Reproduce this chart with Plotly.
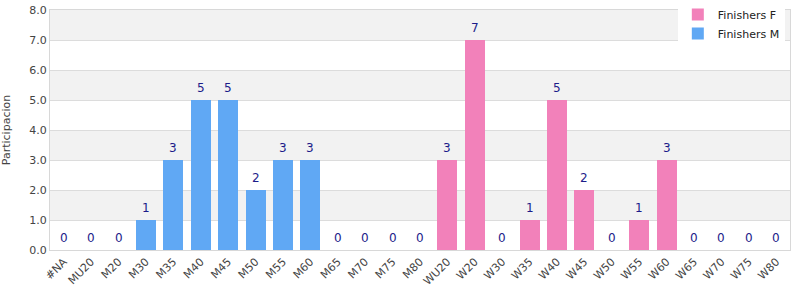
import plotly.graph_objects as go

categories = ["#NA", "MU20", "M20", "M30", "M35", "M40", "M45", "M50", "M55", "M60",
              "M65", "M70", "M75", "M80", "WU20", "W20", "W30", "W35", "W40", "W45",
              "W50", "W55", "W60", "W65", "W70", "W75", "W80"]
finishers_m = [0, 0, 0, 1, 3, 5, 5, 2, 3, 3, 0, 0, 0, 0,
               0, 0, 0, 0, 0, 0, 0, 0, 0, 0, 0, 0, 0]
finishers_f = [0, 0, 0, 0, 0, 0, 0, 0, 0, 0, 0, 0, 0, 0,
               3, 7, 0, 1, 5, 2, 0, 1, 3, 0, 0, 0, 0]
totals = [m + f for m, f in zip(finishers_m, finishers_f)]
y_ticks = [0, 1, 2, 3, 4, 5, 6, 7, 8]

FONT = "DejaVu Sans"
fig = go.Figure()
fig.add_trace(go.Bar(x=categories, y=finishers_m, name="Finishers M",
                     marker=dict(color="#60a8f4", line=dict(width=0))))
fig.add_trace(go.Bar(x=categories, y=finishers_f, name="Finishers F",
                     marker=dict(color="#f281ba", line=dict(width=0))))

for c, t in zip(categories, totals):
    fig.add_annotation(x=c, y=t, text=str(t), showarrow=False, yanchor="bottom",
                       yshift=3, font=dict(family=FONT, size=12, color="#1c1c8a"))

shapes = []
for lo in y_ticks[1::2]:
    shapes.append(dict(type="rect", xref="paper", yref="y", x0=0, x1=1, y0=lo, y1=lo + 1,
                       fillcolor="#f2f2f2", line=dict(width=0), layer="below"))

fig.update_layout(
    width=800, height=300,
    margin=dict(l=50, r=10, t=10, b=50, autoexpand=False),
    barmode="stack", bargap=0.27,
    plot_bgcolor="white", paper_bgcolor="white",
    font=dict(family=FONT, size=11, color="#444"),
    shapes=shapes,
    legend=dict(x=0.993, xanchor="right", y=1.0, yanchor="top", yref="container",
                traceorder="reversed", bgcolor="white",
                font=dict(family=FONT, size=11, color="#222"),
                itemwidth=30, tracegroupgap=0, borderwidth=0),
    xaxis=dict(tickangle=-45, showline=True, linecolor="#d8d8d8", mirror=True,
               automargin=False,
               tickfont=dict(family=FONT, size=11, color="#444"), ticks=""),
    yaxis=dict(range=[0, 8], tickvals=y_ticks, tickformat=".1f",
               showline=True, linecolor="#d8d8d8", mirror=True,
               gridcolor="#dcdcdc", zeroline=False, automargin=False,
               tickfont=dict(family=FONT, size=11, color="#444"),
               title=dict(text="Participacion", font=dict(family=FONT, size=11, color="#444"),
                          standoff=17)),
)
fig.write_html("out.html")
